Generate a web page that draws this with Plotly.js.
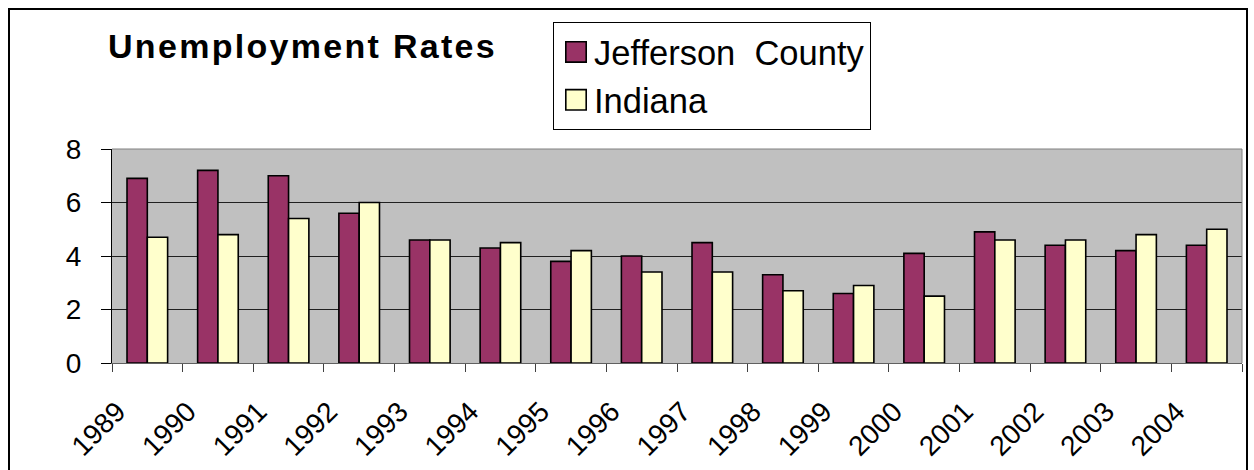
<!DOCTYPE html>
<html>
<head>
<meta charset="utf-8">
<script src="https://cdn.plot.ly/plotly-3.0.1.min.js"></script>
<style>
html, body { margin: 0; padding: 0; background: #fff; }
#chart { width: 1254px; height: 470px; }
.legend .legendpoints path {
  transform-box: fill-box; transform-origin: center;
  transform: translate(22px, 0px) scale(1.7); vector-effect: non-scaling-stroke;
}
.gtitle { letter-spacing: 2.3px; }
</style>
</head>
<body>
<div id="chart"></div>
<script>
// Data
const years = ["1989","1990","1991","1992","1993","1994","1995","1996",
               "1997","1998","1999","2000","2001","2002","2003","2004"];
const jeffersonCounty = [6.9, 7.2, 7.0, 5.6, 4.6, 4.3, 3.8, 4.0,
                         4.5, 3.3, 2.6, 4.1, 4.9, 4.4, 4.2, 4.4];
const indiana = [4.7, 4.8, 5.4, 6.0, 4.6, 4.5, 4.2, 3.4,
                 3.4, 2.7, 2.9, 2.5, 4.6, 4.6, 4.8, 5.0];
const seriesNames = ["Jefferson\u00a0 County", "Indiana"];
const titleText = "Unemployment Rates";
const yTicks = [0, 2, 4, 6, 8];

const FONT = "Liberation Sans, Arial, sans-serif";

const traces = [
  {
    type: "bar", name: seriesNames[0], x: years, y: jeffersonCounty,
    marker: { color: "#993366", line: { color: "#000000", width: 1.6 } },
    hoverinfo: "x+y+name"
  },
  {
    type: "bar", name: seriesNames[1], x: years, y: indiana,
    marker: { color: "#FFFFCC", line: { color: "#000000", width: 1.6 } },
    hoverinfo: "x+y+name"
  }
];

const layout = {
  width: 1254, height: 470,
  margin: { l: 112, r: 12, t: 149, b: 107, pad: 0 },
  paper_bgcolor: "#ffffff",
  plot_bgcolor: "#C0C0C0",
  barmode: "group",
  bargap: 0.425,
  bargroupgap: 0,
  font: { family: FONT, color: "#000000", size: 28 },
  title: {
    text: titleText,
    font: { family: FONT, size: 34, color: "#000000", weight: "bold" },
    xref: "container", yref: "container",
    x: 108 / 1254, xanchor: "left",
    y: 1 - 46 / 470, yanchor: "middle"
  },
  showlegend: true,
  legend: {
    x: (553 - 112) / 1130, xanchor: "left",
    y: (363 - 22) / 214, yanchor: "top",
    bgcolor: "#ffffff", bordercolor: "#000000", borderwidth: 1,
    font: { family: FONT, size: 34.5, color: "#000000" },
    tracegroupgap: 0
  },
  xaxis: {
    type: "category",
    tickangle: -45,
    tickson: "boundaries",
    ticks: "outside", ticklen: 8, tickwidth: 1, tickcolor: "#404040",
    showline: true, linecolor: "#606060", linewidth: 1,
    showgrid: false, zeroline: false,
    tickfont: { family: FONT, size: 28, color: "#000000" },
    ticklabelstandoff: 20,
    ticklabelshift: -30,
    fixedrange: true
  },
  yaxis: {
    range: [0, 8],
    tickvals: yTicks,
    ticktext: yTicks.map(String),
    ticks: "outside", ticklen: 10, tickwidth: 1, tickcolor: "#000000",
    showline: true, linecolor: "#000000", linewidth: 1,
    showgrid: true, gridcolor: "#202020", gridwidth: 1,
    zeroline: false,
    tickfont: { family: FONT, size: 28, color: "#000000" },
    ticklabelstandoff: 14,
    fixedrange: true
  },
  shapes: [
    // plot-area top and right edges (grey frame)
    { type: "line", xref: "paper", yref: "paper", x0: 0, x1: 1, y0: 1, y1: 1,
      line: { color: "#808080", width: 1 } },
    { type: "line", xref: "paper", yref: "paper", x0: 1, x1: 1, y0: 0, y1: 1,
      line: { color: "#808080", width: 1 } },
    // outer chart border
    { type: "rect", xref: "paper", yref: "paper",
      x0: (9 - 112) / 1130, x1: (1247 - 112) / 1130,
      y0: -1, y1: (363 - 9) / 214,
      line: { color: "#000000", width: 2 }, fillcolor: "rgba(0,0,0,0)", layer: "above" }
  ]
};

Plotly.newPlot("chart", traces, layout, { displayModeBar: false, staticPlot: true });
</script>
</body>
</html>
